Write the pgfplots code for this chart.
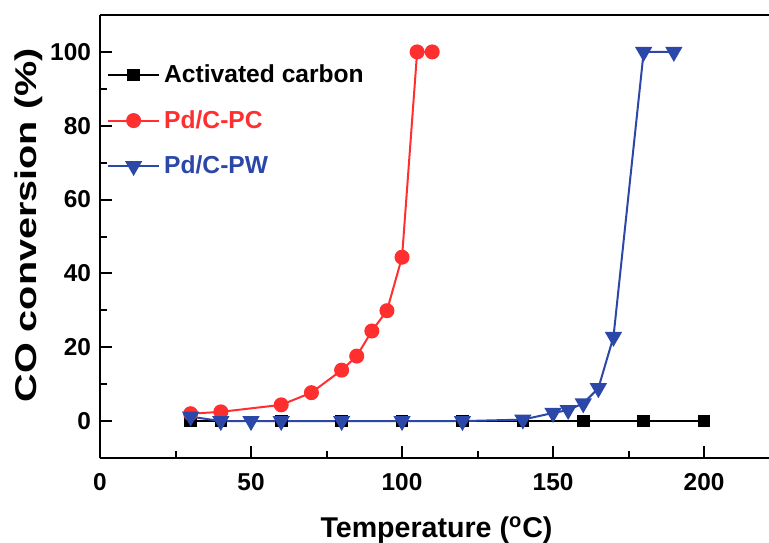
\documentclass[border=0pt]{standalone}
\usepackage{fontspec}
\setmainfont{Liberation Sans}
\usepackage{pgfplots}
\pgfplotsset{compat=1.18}

\definecolor{clrCarbon}{HTML}{000000}
\definecolor{clrPC}{HTML}{FF2F2F}
\definecolor{clrPW}{HTML}{2B47A8}

\begin{document}
\begin{tikzpicture}
\begin{axis}[
    scale only axis,
    width=334.5pt, height=221.5pt,
    xmin=0, xmax=221.5,
    ymin=-10, ymax=110,
    axis x line=box, axis y line*=left,
    xtick={0,50,100,150,200},
    ytick={0,20,40,60,80,100},
    minor x tick num=1, minor y tick num=1,
    tick align=inside,
    xtick pos=left, ytick pos=left,
    major tick length=6pt, minor tick length=3.5pt,
    axis line style={line width=1.2pt},
    every tick/.append style={black, line width=1pt},
    /pgf/number format/assume math mode=true,
    tick label style={font=\bfseries\fontsize{12.2}{14}\selectfont},
    xticklabel style={yshift=-4pt},
    yticklabel style={xshift=-1pt},
    xlabel={Temperature (\textsuperscript{o}C)},
    ylabel={\scalebox{1.32}[1]{CO conversion (\%)}},
    xlabel style={font=\bfseries\fontsize{14.3}{16}\selectfont,
        at={(axis description cs:0.503,-0.18)}, anchor=base},
    ylabel style={font=\bfseries\fontsize{15}{17}\selectfont,
        at={(axis description cs:-0.106,0.525)}, anchor=center},
    legend style={draw=none, fill=none, at={(axis cs:0.2,98.8)}, anchor=north west,
        font=\bfseries\fontsize{12.3}{14}\selectfont, row sep=8.3pt},
    legend cell align=left,
    legend image code/.code={
        \draw[mark repeat=2, mark phase=2] plot coordinates {(0cm,0cm) (0.45cm,0cm) (0.9cm,0cm)};
    },
]
% Activated carbon
\addplot[clrCarbon, line width=0.8pt, mark=square*, mark size=2.75pt] coordinates {
    (30,0) (40,0) (60,0) (80,0) (100,0) (120,0) (140,0) (160,0) (180,0) (200,0)
};
\addlegendentry{Activated carbon}
% Pd/C-PC
\addplot[clrPC, line width=1pt, mark=*, mark size=3.25pt] coordinates {
    (30,2) (40,2.5) (60,4.4) (70,7.7) (80,13.8) (85,17.6) (90,24.4) (95,29.9)
    (100,44.4) (105,100) (110,100)
};
\addlegendentry{\textcolor{clrPC}{Pd/C-PC}}
% Pd/C-PW
\addplot[clrPW, line width=1pt, mark=triangle*, mark size=4pt,
    mark options={rotate=180}] coordinates {
    (30,1.2) (40,0) (50,0) (60,0) (80,0) (100,0) (120,0) (140,0.4)
    (150,2.2) (155,3) (160,4.8) (165,8.9) (170,22.8) (180,100) (190,100)
};
\addlegendentry{\textcolor{clrPW}{Pd/C-PW}}
\coordinate (sw) at (rel axis cs:0,0);
\coordinate (ne) at (rel axis cs:1,1);
\end{axis}
\pgfresetboundingbox
\path[use as bounding box] ([xshift=-50pt,yshift=-42pt]sw) rectangle ([yshift=7.5pt]ne);
\end{tikzpicture}
\end{document}
